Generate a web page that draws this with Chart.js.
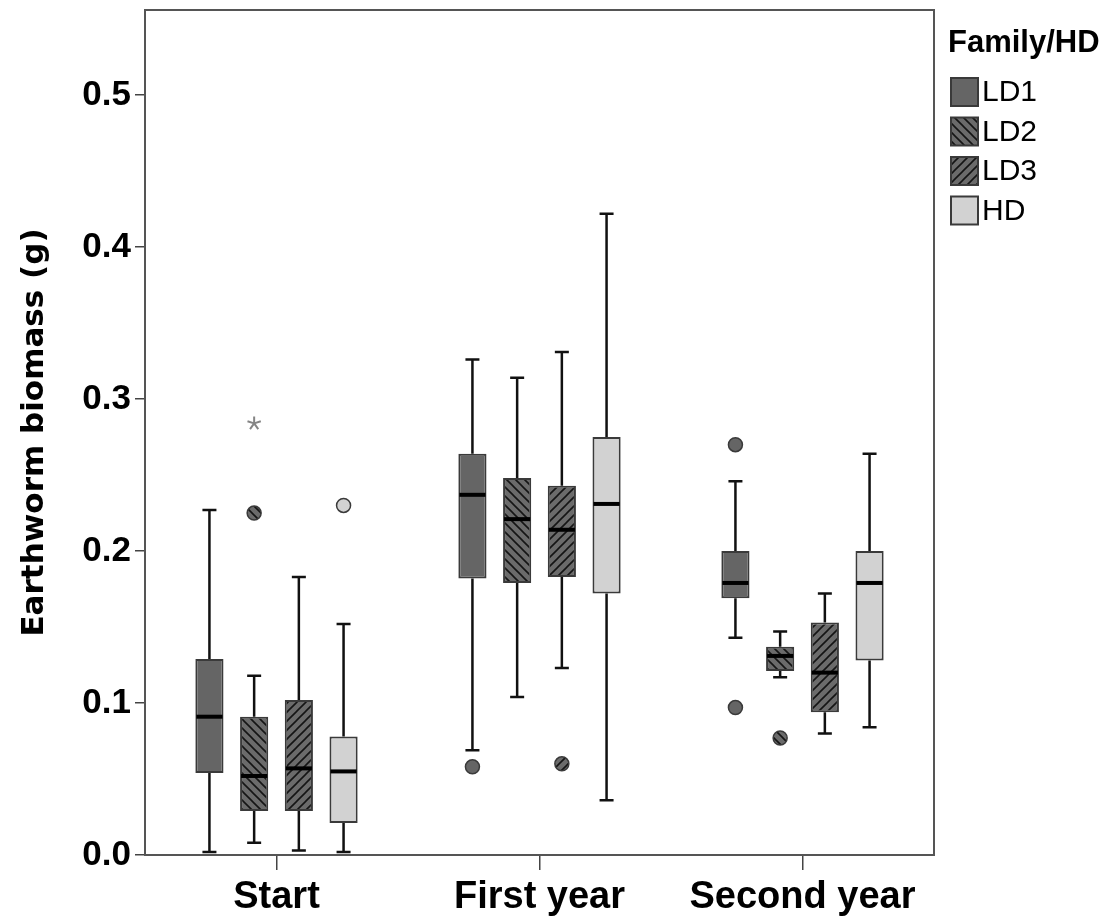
<!DOCTYPE html>
<html lang="en">
<head>
<meta charset="UTF-8">
<title>Earthworm biomass</title>
<style>
  html, body { margin: 0; padding: 0; background: #fff; }
  #chart { display: block; }
</style>
</head>
<body>
<canvas id="chart" width="1116" height="920"></canvas>
<script src="https://cdn.jsdelivr.net/npm/chart.js"></script>
<script>
const groups = ['Start', 'First year', 'Second year'];
const families = ['LD1', 'LD2', 'LD3', 'HD'];

// box stats: one row per family, one column per group
const whiskerLow  = [[0.002, 0.069, 0.143], [0.008, 0.104, 0.117], [0.003, 0.123, 0.080], [0.002, 0.036, 0.084]];
const quart1      = [[0.054, 0.182, 0.169], [0.029, 0.179, 0.121], [0.029, 0.183, 0.094], [0.021, 0.172, 0.128]];
const medians     = [[0.091, 0.237, 0.179], [0.052, 0.221, 0.131], [0.057, 0.214, 0.120], [0.055, 0.231, 0.179]];
const quart3      = [[0.129, 0.264, 0.200], [0.091, 0.248, 0.137], [0.102, 0.243, 0.153], [0.078, 0.275, 0.200]];
const whiskerHigh = [[0.227, 0.326, 0.246], [0.118, 0.314, 0.147], [0.183, 0.331, 0.172], [0.152, 0.422, 0.264]];

// outliers: [family, group, value, extreme]
const outliers = [
    [1, 0, 0.225, false], [1, 0, 0.284, true], [3, 0, 0.230, false],
    [0, 1, 0.058, false], [2, 1, 0.060, false],
    [0, 2, 0.270, false], [0, 2, 0.097, false], [1, 2, 0.077, false]
];

const canvas = document.getElementById('chart');
const mainCtx = canvas.getContext('2d');

function hatch(dir) {
    const n = 9;
    const c = document.createElement('canvas');
    c.width = n; c.height = n;
    const g = c.getContext('2d');
    g.fillStyle = '#6b6b6b';
    g.fillRect(0, 0, n, n);
    g.strokeStyle = '#151515';
    g.lineWidth = 1.6;
    g.beginPath();
    if (dir > 0) { // "/"
        g.moveTo(-1, n + 1); g.lineTo(n + 1, -1);
        g.moveTo(-1, 1); g.lineTo(1, -1);
        g.moveTo(n - 1, n + 1); g.lineTo(n + 1, n - 1);
    } else { // "\"
        g.moveTo(-1, -1); g.lineTo(n + 1, n + 1);
        g.moveTo(n - 1, -1); g.lineTo(n + 1, 1);
        g.moveTo(-1, n - 1); g.lineTo(1, n + 1);
    }
    g.stroke();
    return mainCtx.createPattern(c, 'repeat');
}

const fills = ['#656565', hatch(-1), hatch(1), '#d2d2d2'];
const edge = '#3a3a3a';

function drawStar(ctx, x, y, r) {
    ctx.save();
    ctx.strokeStyle = '#858585';
    ctx.lineWidth = 2;
    ctx.beginPath();
    for (let k = 0; k < 5; k++) {
        const a = -Math.PI / 2 + k * 2 * Math.PI / 5;
        ctx.moveTo(x, y);
        ctx.lineTo(x + r * Math.cos(a), y + r * Math.sin(a));
    }
    ctx.stroke();
    ctx.restore();
}

const boxPlugin = {
    id: 'boxes',
    afterDatasetsDraw(chart) {
        const ctx = chart.ctx;
        const ys = chart.scales.y;
        ctx.save();
        families.forEach((f, i) => {
            chart.getDatasetMeta(i).data.forEach((bar, j) => {
                const x = bar.x, w = bar.width, cap = 7;
                const yHi = ys.getPixelForValue(whiskerHigh[i][j]);
                const yLo = ys.getPixelForValue(whiskerLow[i][j]);
                const yQ3 = ys.getPixelForValue(quart3[i][j]);
                const yQ1 = ys.getPixelForValue(quart1[i][j]);
                const yMed = ys.getPixelForValue(medians[i][j]);
                ctx.strokeStyle = '#111';
                ctx.lineWidth = 2.5;
                ctx.beginPath();
                ctx.moveTo(x, yQ3); ctx.lineTo(x, yHi);
                ctx.moveTo(x - cap, yHi); ctx.lineTo(x + cap, yHi);
                ctx.moveTo(x, yQ1); ctx.lineTo(x, yLo);
                ctx.moveTo(x - cap, yLo); ctx.lineTo(x + cap, yLo);
                ctx.stroke();
                ctx.strokeStyle = '#000';
                ctx.lineWidth = 4;
                ctx.beginPath();
                ctx.moveTo(x - w / 2 + 1, yMed); ctx.lineTo(x + w / 2 - 1, yMed);
                ctx.stroke();
            });
        });
        outliers.forEach(([i, j, v, extreme]) => {
            const bar = chart.getDatasetMeta(i).data[j];
            const py = ys.getPixelForValue(v);
            if (extreme) {
                drawStar(ctx, bar.x, py, 7);
            } else {
                ctx.beginPath();
                ctx.arc(bar.x, py, 7, 0, Math.PI * 2);
                ctx.fillStyle = fills[i];
                ctx.fill();
                ctx.strokeStyle = edge;
                ctx.lineWidth = 1.5;
                ctx.stroke();
            }
        });
        ctx.restore();
    },
    afterDraw(chart) {
        const ctx = chart.ctx;
        const a = chart.chartArea;
        ctx.save();
        ctx.strokeStyle = '#555';
        ctx.lineWidth = 2;
        ctx.strokeRect(a.left, a.top, a.right - a.left, a.bottom - a.top);

        // legend
        ctx.fillStyle = '#000';
        ctx.textBaseline = 'middle';
        ctx.textAlign = 'left';
        ctx.font = 'bold 31px "Liberation Sans", Arial, sans-serif';
        ctx.fillText('Family/HD', 948, 43);
        ctx.font = '30px "Liberation Sans", Arial, sans-serif';
        families.forEach((f, i) => {
            const cy = 92 + i * 39.5;
            ctx.fillStyle = fills[i];
            ctx.fillRect(951, cy - 14, 27, 28);
            ctx.strokeStyle = edge;
            ctx.lineWidth = 2;
            ctx.strokeRect(951, cy - 14, 27, 28);
            ctx.fillStyle = '#000';
            ctx.fillText(f, 982, cy + 1);
        });
        ctx.restore();
    }
};

new Chart(canvas, {
    type: 'bar',
    data: {
        labels: groups,
        datasets: families.map((f, i) => ({
            label: f,
            data: groups.map((g, j) => [quart1[i][j], quart3[i][j]]),
            backgroundColor: fills[i],
            borderColor: edge,
            borderWidth: 2,
            borderSkipped: false,
            categoryPercentage: 0.68,
            barPercentage: 0.63
        }))
    },
    options: {
        responsive: false,
        animation: false,
        devicePixelRatio: 1,
        layout: { padding: { top: 10, right: 182, left: 0, bottom: 0 } },
        plugins: {
            legend: { display: false },
            tooltip: { enabled: false }
        },
        scales: {
            x: {
                grid: { offset: false, drawOnChartArea: false, tickLength: 15, color: '#444', lineWidth: 1.5 },
                border: { display: false },
                ticks: {
                    color: '#000',
                    padding: 5,
                    maxRotation: 0,
                    font: { family: 'Liberation Sans', size: 38, weight: 'bold' }
                },
                afterFit: s => { s.height = 65; s.paddingLeft = 0; s.paddingRight = 0; }
            },
            y: {
                min: 0,
                max: 0.556,
                grid: { drawOnChartArea: false, tickLength: 10, color: '#444', lineWidth: 1.5 },
                border: { display: false },
                ticks: {
                    stepSize: 0.1,
                    includeBounds: false,
                    color: '#000',
                    padding: 4,
                    callback: v => v.toFixed(1),
                    font: { family: 'Liberation Sans', size: 35, weight: 'bold' }
                },
                title: {
                    display: true,
                    text: 'Earthworm biomass (g)',
                    color: '#000',
                    padding: { top: 16, bottom: 0 },
                    font: { family: 'DejaVu Sans', size: 31, weight: 'bold' }
                },
                afterFit: s => { s.width = 145; s.paddingTop = 0; s.paddingBottom = 0; }
            }
        }
    },
    plugins: [boxPlugin]
});
</script>
</body>
</html>
